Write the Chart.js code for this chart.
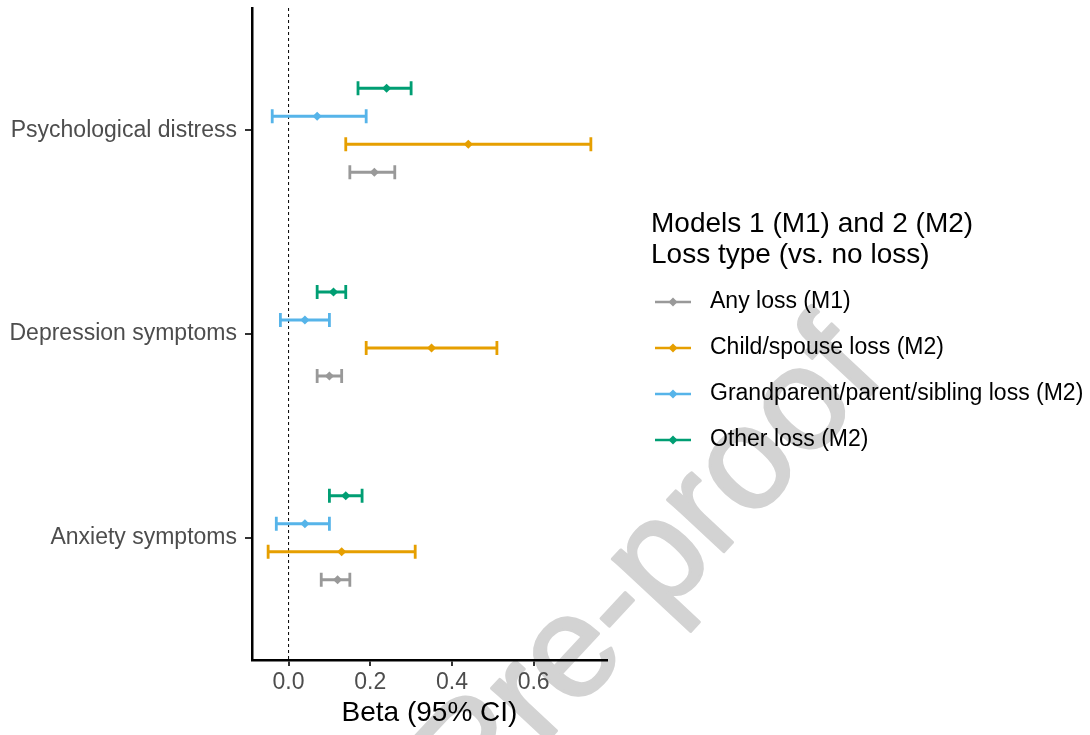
<!DOCTYPE html>
<html>
<head>
<meta charset="utf-8">
<script src="https://cdn.jsdelivr.net/npm/chart.js@4.4.1/dist/chart.umd.min.js"></script>
<style>
  body { margin: 0; background: #fff; }
  canvas { display: block; }
</style>
</head>
<body>
<canvas id="chart" width="1090" height="735"></canvas>
<script>
// outcomes, bottom to top
const categories = ['Anxiety symptoms', 'Depression symptoms', 'Psychological distress'];
const seriesNames = ['Any loss (M1)', 'Child/spouse loss (M2)', 'Grandparent/parent/sibling loss (M2)', 'Other loss (M2)'];
const seriesColors = ['#999999', '#E69F00', '#56B4E9', '#009E73'];
const legendTitle = ['Models 1 (M1) and 2 (M2)', 'Loss type (vs. no loss)'];
const xTicks = [0, 0.2, 0.4, 0.6];

// beta, lower and upper 95% CI per outcome
const anyEst = [0.12, 0.10, 0.21];
const anyLow = [0.08, 0.07, 0.15];
const anyHigh = [0.15, 0.13, 0.26];

const childEst = [0.13, 0.35, 0.44];
const childLow = [-0.05, 0.19, 0.14];
const childHigh = [0.31, 0.51, 0.74];

const grandEst = [0.04, 0.04, 0.07];
const grandLow = [-0.03, -0.02, -0.04];
const grandHigh = [0.10, 0.10, 0.19];

const otherEst = [0.14, 0.11, 0.24];
const otherLow = [0.10, 0.07, 0.17];
const otherHigh = [0.18, 0.14, 0.30];

const estimates = [anyEst, childEst, grandEst, otherEst];
const lows = [anyLow, childLow, grandLow, otherLow];
const highs = [anyHigh, childHigh, grandHigh, otherHigh];

const FONT = "'Liberation Sans', Arial, Helvetica, sans-serif";
const dodge = 0.55;
const step = dodge / seriesNames.length;

// ggplot-like 5% expansion of x range
const allLow = Math.min(...lows.flat());
const allHigh = Math.max(...highs.flat());
const pad = (allHigh - allLow) * 0.05;

const datasets = seriesNames.map((name, s) => ({
  label: name,
  data: estimates[s].map((v, i) => ({ x: v, y: i + 1 + (s - 1.5) * step, lo: lows[s][i], hi: highs[s][i] })),
  backgroundColor: seriesColors[s],
  borderColor: seriesColors[s],
  pointStyle: 'rectRot',
  pointRadius: 4.6,
  pointBorderWidth: 0,
  showLine: false
}));

const forestPlugin = {
  id: 'forest',
  beforeDraw(chart) {
    // watermark, under everything
    const ctx = chart.ctx;
    ctx.save();
    ctx.translate(652, 570);
    ctx.rotate(-47 * Math.PI / 180);
    ctx.font = '145px ' + FONT;
    ctx.fillStyle = '#d3d3d3';
    ctx.strokeStyle = '#d3d3d3';
    ctx.lineWidth = 3;
    ctx.lineJoin = 'round';
    ctx.textAlign = 'center';
    ctx.textBaseline = 'middle';
    ctx.fillText('Pre-proof', 0, 0);
    ctx.strokeText('Pre-proof', 0, 0);
    ctx.restore();
  },
  beforeDatasetsDraw(chart) {
    const { ctx, chartArea, scales: { x, y } } = chart;
    ctx.save();
    // reference line at zero
    ctx.strokeStyle = '#000';
    ctx.lineWidth = 1;
    ctx.setLineDash([3, 3]);
    const x0 = x.getPixelForValue(0);
    ctx.beginPath();
    ctx.moveTo(x0, chartArea.top);
    ctx.lineTo(x0, chartArea.bottom);
    ctx.stroke();
    ctx.setLineDash([]);
    // error bars
    ctx.lineWidth = 2.8;
    chart.data.datasets.forEach((ds) => {
      ctx.strokeStyle = ds.borderColor;
      ds.data.forEach((p) => {
        const yp = y.getPixelForValue(p.y);
        const xl = x.getPixelForValue(p.lo);
        const xh = x.getPixelForValue(p.hi);
        ctx.beginPath();
        ctx.moveTo(xl, yp);
        ctx.lineTo(xh, yp);
        ctx.moveTo(xl, yp - 7);
        ctx.lineTo(xl, yp + 7);
        ctx.moveTo(xh, yp - 7);
        ctx.lineTo(xh, yp + 7);
        ctx.stroke();
      });
    });
    ctx.restore();
  },
  afterDraw(chart) {
    // legend
    const ctx = chart.ctx;
    ctx.save();
    ctx.fillStyle = '#000';
    ctx.textAlign = 'left';
    ctx.textBaseline = 'middle';
    ctx.font = '28px ' + FONT;
    legendTitle.forEach((t, i) => ctx.fillText(t, 651, 224 + i * 31));
    ctx.font = '23px ' + FONT;
    chart.data.datasets.forEach((ds, i) => {
      const ly = 302 + i * 46;
      ctx.strokeStyle = ds.borderColor;
      ctx.lineWidth = 2.6;
      ctx.beginPath();
      ctx.moveTo(655, ly);
      ctx.lineTo(691, ly);
      ctx.stroke();
      ctx.fillStyle = ds.backgroundColor;
      ctx.beginPath();
      ctx.moveTo(673, ly - 4.5);
      ctx.lineTo(677.5, ly);
      ctx.lineTo(673, ly + 4.5);
      ctx.lineTo(668.5, ly);
      ctx.closePath();
      ctx.fill();
      ctx.fillStyle = '#000';
      ctx.fillText(ds.label, 710, ly);
    });
    ctx.restore();
  }
};

new Chart(document.getElementById('chart'), {
  type: 'scatter',
  data: { datasets },
  options: {
    responsive: false,
    animation: false,
    layout: { padding: { top: 8, right: 483, left: 0, bottom: 0 } },
    plugins: { legend: { display: false }, tooltip: { enabled: false } },
    scales: {
      x: {
        type: 'linear',
        min: allLow - pad,
        max: allHigh + pad,
        afterBuildTicks: (scale) => { scale.ticks = xTicks.map(v => ({ value: v })); },
        afterFit: (scale) => { scale.height = 75; scale.paddingLeft = 0; scale.paddingRight = 0; },
        ticks: {
          callback: (v) => Number(v).toFixed(1),
          color: '#4d4d4d',
          font: { family: FONT, size: 23 },
          padding: 3,
          maxRotation: 0
        },
        grid: { drawOnChartArea: false, drawTicks: true, tickLength: 6, color: '#333', lineWidth: 2 },
        border: { display: true, color: '#000', width: 2.5 },
        title: {
          display: true,
          text: 'Beta (95% CI)',
          color: '#000',
          font: { family: FONT, size: 28 },
          padding: { top: 0, bottom: 5 }
        }
      },
      y: {
        type: 'linear',
        min: 0.4,
        max: categories.length + 0.6,
        afterBuildTicks: (scale) => { scale.ticks = categories.map((c, i) => ({ value: i + 1 })); },
        afterFit: (scale) => { scale.width = 252; scale.paddingTop = 0; scale.paddingBottom = 0; },
        ticks: {
          callback: (v) => categories[Math.round(v) - 1],
          color: '#4d4d4d',
          font: { family: FONT, size: 23 },
          padding: 8
        },
        grid: { drawOnChartArea: false, drawTicks: true, tickLength: 7, color: '#333', lineWidth: 2 },
        border: { display: true, color: '#000', width: 2.5 }
      }
    }
  },
  plugins: [forestPlugin]
});
</script>
</body>
</html>
